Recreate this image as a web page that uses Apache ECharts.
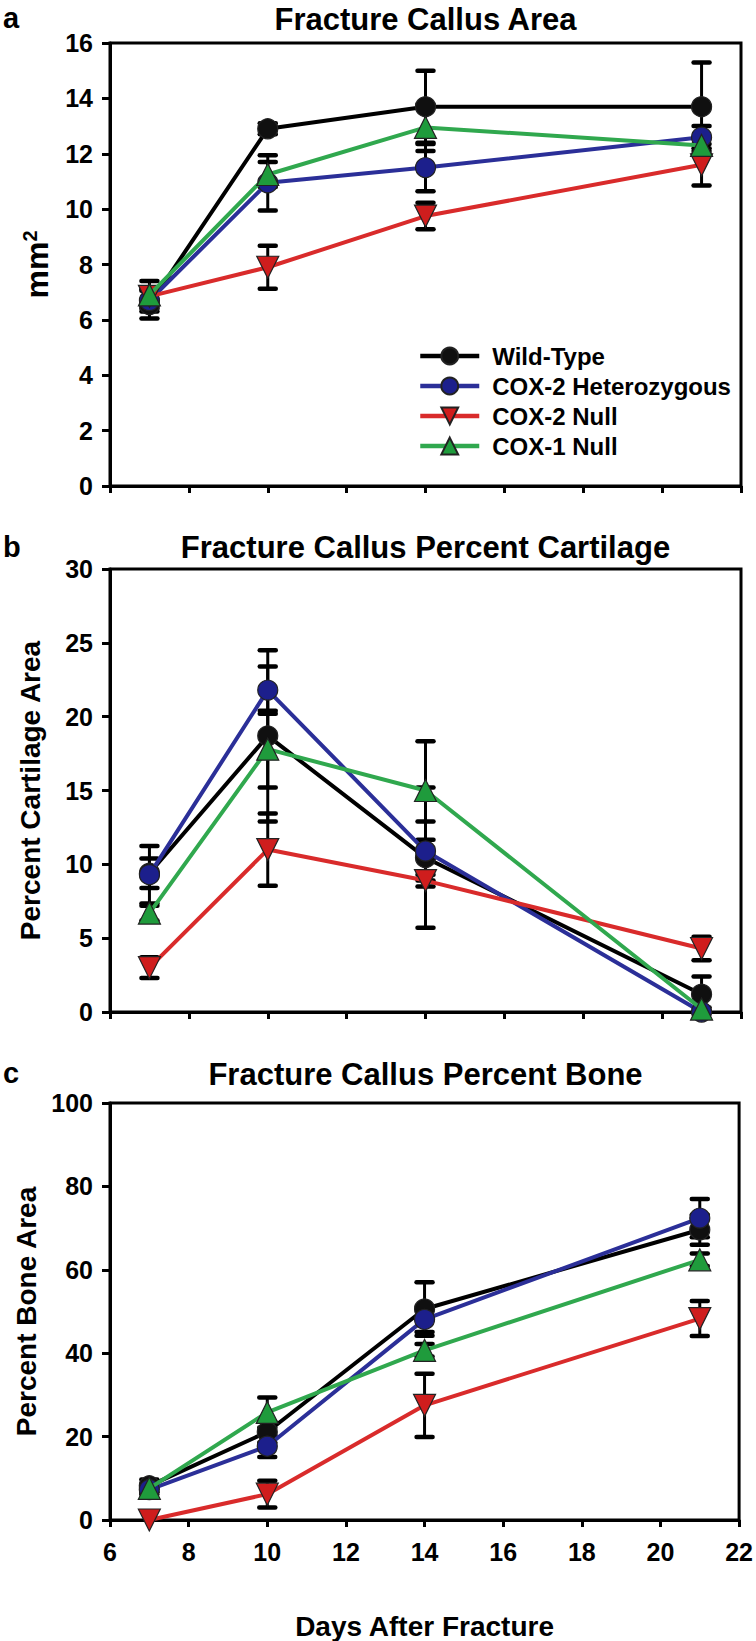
<!DOCTYPE html>
<html><head><meta charset="utf-8">
<script src="https://cdn.jsdelivr.net/npm/echarts@6/dist/echarts.min.js"></script>
<style>html,body{margin:0;padding:0;background:#fff}#c{width:756px;height:1641px}</style>
</head><body><div id="c"></div>
<script>
// ---------- data ----------
const days = [7, 10, 14, 21];
const seriesNames = ['Wild-Type', 'COX-2 Heterozygous', 'COX-2 Null', 'COX-1 Null'];
const xTicks = [6, 22, 2];          // min, max, step

// Panel a: Fracture Callus Area (mm2)
const areaWT = [6.55, 12.9, 13.7, 13.7];
const areaWTErr = [0.5, 0.2, 1.3, 1.6];
const areaHet = [6.7, 10.95, 11.5, 12.6];
const areaHetErr = [0.4, 1.0, 0.85, 0.4];
const areaC2N = [6.85, 7.9, 9.75, 11.6];
const areaC2NErr = [0.3, 0.78, 0.48, 0.75];
const areaC1N = [6.9, 11.25, 12.95, 12.3];
const areaC1NErr = [0.5, 0.45, 0.85, 0.3];
const areaTicks = [0, 16, 2];

// Panel b: Percent cartilage
const cartWT = [9.4, 18.7, 10.45, 1.2];
const cartWTErr = [1.0, 5.8, 4.75, 1.2];
const cartHet = [9.3, 21.8, 10.9, 0.0];
const cartHetErr = [1.95, 1.6, 2.0, 0];
const cartC2N = [3.0, 11.0, 8.9, 4.3];
const cartC2NErr = [0.7, 2.45, 0.4, 0.8];
const cartC1N = [6.7, 17.8, 15.0, 0.2];
const cartC1NErr = [0.5, 2.6, 3.33, 0.1];
const cartTicks = [0, 30, 5];

// Panel c: Percent bone
const boneWT = [8.2, 21.1, 50.6, 69.6];
const boneWTErr = [1.5, 2.5, 6.4, 3.6];
const boneHet = [7.3, 17.7, 48.1, 72.4];
const boneHetErr = [1.2, 2.6, 3.0, 4.6];
const boneC2N = [0.0, 6.2, 27.5, 48.3];
const boneC2NErr = [0, 3.2, 7.6, 4.2];
const boneC1N = [7.6, 25.8, 40.7, 62.4];
const boneC1NErr = [1.0, 3.6, 1.5, 1.5];
const boneTicks = [0, 100, 20];

// ---------- styling ----------
const FONT = '"Liberation Sans", Arial, Helvetica, sans-serif';
const lineColors = ['#000000', '#2b2f98', '#d92b2b', '#30a84e'];
const fillColors = ['#101010', '#1c1f8c', '#cf1d1d', '#1f9b3c'];
const symbols = ['circle', 'circle', 'triangle', 'triangle'];
const rotates = [0, 0, 180, 0];
const symSizes = [20, 20, 22, 22];

const panels = [
  { vals: [areaWT, areaHet, areaC2N, areaC1N], errs: [areaWTErr, areaHetErr, areaC2NErr, areaC1NErr],
    ticks: areaTicks, top: 43, height: 443, title: 'Fracture Callus Area', titleY: 19, letter: 'a', letterY: 18,
    yName: '{m|mm}{s|2}', nameGap: 56, xLabels: false },
  { vals: [cartWT, cartHet, cartC2N, cartC1N], errs: [cartWTErr, cartHetErr, cartC2NErr, cartC1NErr],
    ticks: cartTicks, top: 569, height: 443, title: 'Fracture Callus Percent Cartilage', titleY: 547, letter: 'b', letterY: 547,
    yName: 'Percent Cartilage Area', nameGap: 66, xLabels: false },
  { vals: [boneWT, boneHet, boneC2N, boneC1N], errs: [boneWTErr, boneHetErr, boneC2NErr, boneC1NErr],
    ticks: boneTicks, top: 1103, height: 442, title: 'Fracture Callus Percent Bone', titleY: 1074, letter: 'c', letterY: 1073,
    yName: 'Percent Bone Area', nameGap: 66, xLabels: true }
];

const GL = 110, GW = 631;

function renderErr(params, api) {
  const x = api.value(0), y = api.value(1), e = api.value(2);
  if (!e) return null;
  const hi = api.coord([x, y + e]);
  const lo = api.coord([x, y - e]);
  const cw = 8;
  return {
    type: 'group',
    children: [
      { type: 'line', shape: { x1: hi[0], y1: hi[1], x2: lo[0], y2: lo[1] }, style: { stroke: '#000', lineWidth: 3 } },
      { type: 'line', shape: { x1: hi[0] - cw, y1: hi[1], x2: hi[0] + cw, y2: hi[1] }, style: { stroke: '#000', lineWidth: 4.5, lineCap: 'round' } },
      { type: 'line', shape: { x1: lo[0] - cw, y1: lo[1], x2: lo[0] + cw, y2: lo[1] }, style: { stroke: '#000', lineWidth: 4.5, lineCap: 'round' } }
    ]
  };
}

const grid = [], xAxis = [], yAxis = [], series = [], graphic = [];
panels.forEach((p, pi) => {
  grid.push({ left: GL, width: GW, top: p.top, height: p.height, show: true, borderColor: '#000', borderWidth: 3, backgroundColor: 'transparent' });
  const xa = {
    type: 'value', gridIndex: pi, min: xTicks[0], max: xTicks[1], interval: xTicks[2],
    axisLine: { show: true, lineStyle: { color: '#000', width: 3 } },
    axisTick: { show: true, inside: false, length: 7, lineStyle: { color: '#000', width: 3 } },
    splitLine: { show: false },
    axisLabel: { show: p.xLabels, color: '#000', fontFamily: FONT, fontWeight: 'bold', fontSize: 25, margin: 19 }
  };
  if (p.xLabels) {
    Object.assign(xa, { name: 'Days After Fracture', nameLocation: 'middle', nameGap: 92,
      nameTextStyle: { color: '#000', fontFamily: FONT, fontWeight: 'bold', fontSize: 28 } });
  }
  xAxis.push(xa);
  yAxis.push({
    type: 'value', gridIndex: pi, min: p.ticks[0], max: p.ticks[1], interval: p.ticks[2],
    axisLine: { show: true, lineStyle: { color: '#000', width: 3 } },
    axisTick: { show: true, inside: false, length: 8, lineStyle: { color: '#000', width: 3 } },
    splitLine: { show: false },
    axisLabel: { color: '#000', fontFamily: FONT, fontWeight: 'bold', fontSize: 25, margin: 17 },
    name: p.yName, nameLocation: 'middle', nameRotate: 90, nameGap: p.nameGap,
    nameTextStyle: { color: '#000', fontFamily: FONT, fontWeight: 'bold', fontSize: 28,
      rich: { m: { fontFamily: FONT, fontWeight: 'bold', fontSize: 32, color: '#000' },
              s: { fontFamily: FONT, fontWeight: 'bold', fontSize: 20, color: '#000', verticalAlign: 'top', padding: [0, 0, 14, 0] } } }
  });
  p.vals.forEach((v, si) => {
    series.push({
      type: 'custom', xAxisIndex: pi, yAxisIndex: pi, z: 1, silent: true,
      renderItem: renderErr, encode: { x: 0, y: 1 },
      data: days.map((d, i) => [d, v[i], p.errs[si][i]])
    });
  });
  p.vals.forEach((v, si) => {
    series.push({
      type: 'line', name: seriesNames[si], xAxisIndex: pi, yAxisIndex: pi, z: 2 + si,
      data: days.map((d, i) => [d, v[i]]),
      symbol: symbols[si], symbolRotate: rotates[si], symbolSize: symSizes[si], showAllSymbol: true,
      lineStyle: { color: lineColors[si], width: 4 },
      itemStyle: { color: fillColors[si], borderColor: '#222', borderWidth: 1.2 },
      emphasis: { disabled: true }, animation: false
    });
  });
  graphic.push({ type: 'text', x: GL + GW / 2, y: p.titleY,
    style: { text: p.title, align: 'center', verticalAlign: 'middle', fill: '#000', font: 'bold 31px ' + FONT } });
  graphic.push({ type: 'text', x: 3, y: p.letterY,
    style: { text: p.letter, align: 'left', verticalAlign: 'middle', fill: '#000', font: 'bold 29px ' + FONT } });
});

const chart = echarts.init(document.getElementById('c'), null, { renderer: 'svg', width: 756, height: 1641 });
chart.setOption({
  animation: false,
  backgroundColor: '#fff',
  grid, xAxis, yAxis, series, graphic,
  legend: {
    data: seriesNames, orient: 'vertical', left: 413, top: 339,
    itemWidth: 59, itemHeight: 21, itemGap: 6,
    lineStyle: { width: 4.5 },
    textStyle: { color: '#000', fontFamily: FONT, fontWeight: 'bold', fontSize: 24, padding: [0, 0, 0, 8] },
    selectedMode: false
  }
});
</script>
</body></html>
